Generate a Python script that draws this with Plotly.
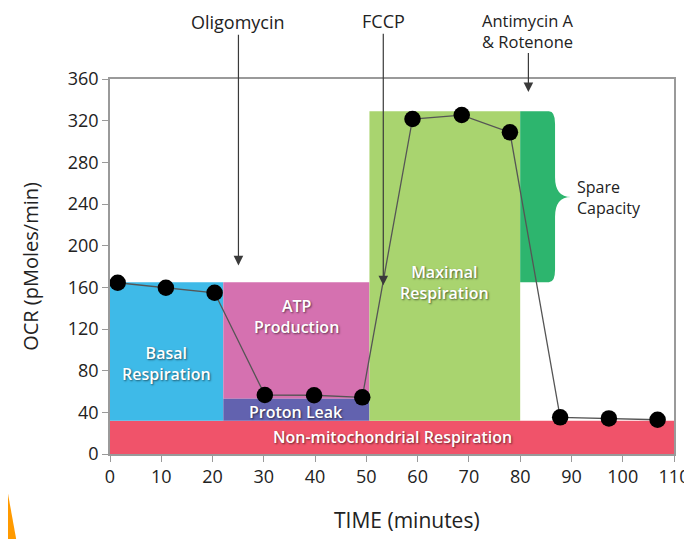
import plotly.graph_objects as go

# ---- data ----
time_min = [1.5, 10.9, 20.4, 30.2, 39.8, 49.2, 59.0, 68.6, 78.0, 87.8, 97.3, 106.8]
ocr = [164.4, 159.6, 154.8, 56.6, 56.4, 54.4, 321.6, 325.4, 308.8, 35.2, 34.2, 32.9]

region_names = ["Non-mitochondrial Respiration", "Basal<br>Respiration", "ATP<br>Production",
                "Proton Leak", "Maximal<br>Respiration"]
region_t0 = [0, 0, 22.1, 22.1, 50.6]
region_t1 = [110, 22.1, 50.6, 50.6, 80]
region_v0 = [0, 32, 53, 32, 32]
region_v1 = [32, 165, 165, 53, 329]
region_colors = ["#F0536A", "#3EBAE8", "#D571B0", "#6262AF", "#A9D46F"]
label_v = [16, 87, 132, 40.5, 165]

spare_t = [80, 86.8, 89.9]       # left, body right edge, brace tip
spare_v = [165, 329, 246.7]      # bottom, top, brace tip
spare_color = "#2DB56E"

inject_names = ["Oligomycin", "FCCP", "Antimycin A<br>& Rotenone"]
inject_t = [25.05, 53.3, 81.6]
inject_tip_v = [181, 162, 347.5]
inject_label_v = [414.5, 415.5, 406.5]

x_ticks = list(range(0, 111, 10))
y_ticks = list(range(0, 361, 40))

FONT = "Open Sans"

fig = go.Figure()

shapes = []
for t0, t1, v0, v1, c in zip(region_t0, region_t1, region_v0, region_v1, region_colors):
    shapes.append(dict(type="rect", xref="x", yref="y", x0=t0, x1=t1, y0=v0, y1=v1,
                       fillcolor=c, line=dict(width=0), layer="below"))

# spare capacity brace shape
l, r, tip = spare_t
b, t, m = spare_v
rx, ry = 1.2, 12
d1 = 19
path = (f"M {l},{b} L {l},{t} L {r-rx},{t} Q {r},{t} {r},{t-ry} "
        f"L {r},{m+d1} Q {r},{m} {tip},{m} Q {r},{m} {r},{m-d1} "
        f"L {r},{b+ry} Q {r},{b} {r-rx},{b} Z")
shapes.append(dict(type="path", xref="x", yref="y", path=path, fillcolor=spare_color,
                   line=dict(width=0), layer="below"))

# orange sliver at bottom-left corner
shapes.append(dict(type="path", xref="paper", yref="paper",
                   path="M -0.196,0.02 L -0.196,-0.23 L -0.166,-0.23 Z",
                   fillcolor="#FF9A00", line=dict(width=0), layer="above"))

fig.add_trace(go.Scatter(
    x=time_min, y=ocr, mode="lines+markers",
    line=dict(color="#555555", width=1.3),
    marker=dict(color="black", size=16.5),
    showlegend=False, hoverinfo="skip", cliponaxis=False))

annotations = []
shadow = "1px 1px 2px rgba(0,0,0,0.55)"
for name, t0, t1, lv in zip(region_names, region_t0, region_t1, label_v):
    annotations.append(dict(x=(t0 + t1) / 2, y=lv, xref="x", yref="y", text=name,
                            showarrow=False,
                            font=dict(family=FONT, size=16, color="white", weight=600,
                                      shadow=shadow)))

annotations.append(dict(x=tip + 0.8, y=m, xref="x", yref="y", text="Spare<br>Capacity",
                        showarrow=False, xanchor="left", align="left",
                        font=dict(family=FONT, size=16, color="#222222")))

for name, it, tv, lv in zip(inject_names, inject_t, inject_tip_v, inject_label_v):
    annotations.append(dict(x=it, y=tv, xref="x", yref="y", ax=it, ay=lv,
                            axref="x", ayref="y", text=name, showarrow=True,
                            arrowhead=2, arrowsize=1.6, arrowwidth=1.2,
                            arrowcolor="#3a3a3a", borderpad=0,
                            font=dict(family=FONT, size=18 if "<br>" not in name else 16.5,
                                      color="#222222")))

# x-axis title (sits right of centre in the reference)
annotations.append(dict(x=0.527, y=-0.176, xref="paper", yref="paper",
                        text="TIME (minutes)", showarrow=False,
                        xanchor="center", yanchor="middle", borderpad=0,
                        font=dict(family=FONT, size=21, color="#222222")))

fig.update_layout(
    width=684, height=531,
    margin=dict(l=102, r=18, t=71, b=85),
    paper_bgcolor="white", plot_bgcolor="white",
    shapes=shapes, annotations=annotations,
    font=dict(family=FONT, color="#222222"),
    xaxis=dict(range=[0, 110], tickvals=x_ticks, showgrid=False, zeroline=False,
               automargin=False, ticklabeloverflow="allow",
               showline=True, mirror=True, linecolor="#9a9a9a", linewidth=1.5,
               ticks="outside", ticklen=6, tickcolor="#9a9a9a",
               tickfont=dict(family=FONT, size=18, color="#222222")),
    yaxis=dict(range=[0, 360], tickvals=y_ticks, showgrid=False, zeroline=False,
               automargin=False,
               showline=True, mirror=True, linecolor="#9a9a9a", linewidth=1.5,
               ticks="outside", ticklen=6, tickcolor="#9a9a9a",
               tickfont=dict(family=FONT, size=18, color="#222222"),
               title=dict(text="OCR (pMoles/min)", font=dict(family=FONT, size=20, color="#222222"),
                          standoff=24)),
)

fig.write_html("out.html")
